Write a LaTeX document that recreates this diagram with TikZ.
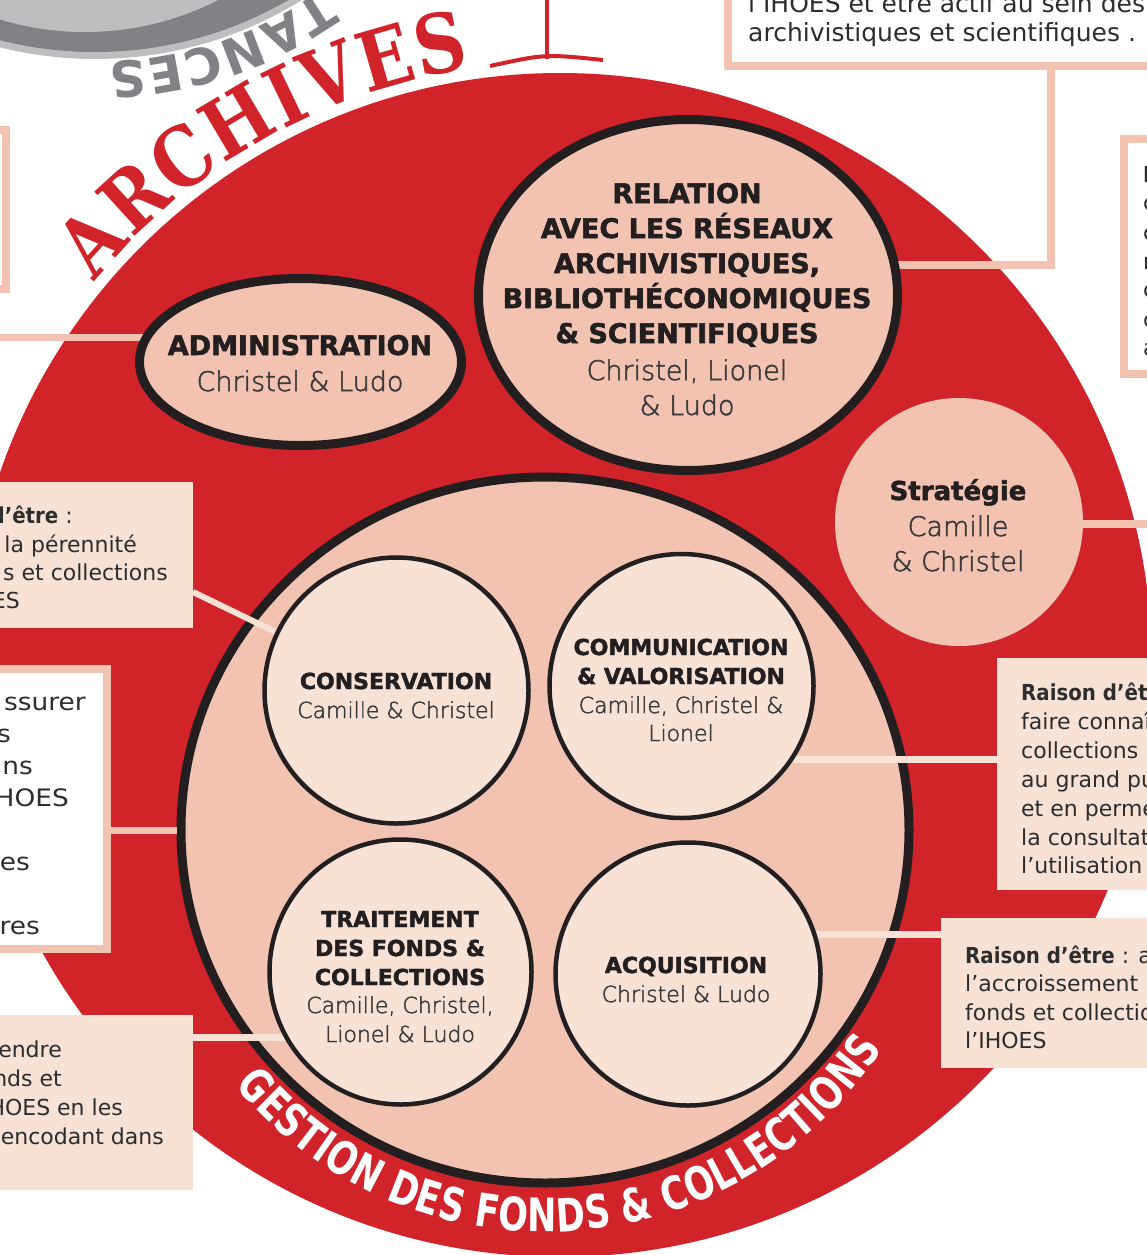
\documentclass[tikz,border=0pt]{standalone}
\usepackage{fontspec}
\setmainfont{DejaVu Sans}
\newfontfamily\slabfont{DejaVu Serif}[FakeStretch=0.86]
\newfontfamily\condfont{DejaVu Sans}[FakeStretch=0.76]
\newfontfamily\bodybold{DejaVu Sans}[FakeStretch=0.9]
\newfontfamily\widefont{DejaVu Sans}[FakeStretch=1.1]
\newfontfamily\heavyfont{DejaVu Sans}[BoldFeatures={FakeBold=2}]
\IfFontExistsTF{DejaVu Sans ExtraLight}
  {\newfontfamily\lightfont{DejaVu Sans ExtraLight}[FakeBold=2]}
  {\IfFontExistsTF{DejaVuSans-ExtraLight.ttf}
    {\newfontfamily\lightfont{DejaVuSans-ExtraLight.ttf}[FakeBold=2]}
    {\newfontfamily\lightfont{DejaVu Sans}}}
\usetikzlibrary{shapes.geometric,decorations.text}
\definecolor{archred}{HTML}{D1232A}
\definecolor{salmon}{HTML}{F2C3B1}
\definecolor{pale}{HTML}{F8E1D5}
\definecolor{inkblack}{HTML}{231F20}
\definecolor{namegray}{HTML}{3A3A3A}
\definecolor{bodytext}{HTML}{2D2D2D}
\definecolor{graydark}{HTML}{808285}
\definecolor{graylight}{HTML}{BCBEC0}
\tikzset{
  salline/.style={draw=salmon, line cap=butt},
  paleline/.style={draw=pale, line cap=butt},
  whitebox/.style={rectangle, draw=salmon, line width=8pt, fill=white, inner sep=0pt, outer sep=0pt, anchor=north west},
  palebox/.style={rectangle, fill=pale, inner sep=0pt, outer sep=0pt, anchor=north west},
  ring/.style={ellipse, draw=inkblack, line width=9pt, fill=salmon, inner sep=0pt, outer sep=0pt},
  disc/.style={ellipse, draw=inkblack, line width=4.5pt, fill=pale, inner sep=0pt, outer sep=0pt},
  ttl/.style={anchor=base, inner sep=0pt, text=inkblack, font=\heavyfont\bfseries\fontsize{27}{27}\selectfont},
  nm/.style={anchor=base, inner sep=0pt, text=namegray, font=\lightfont\fontsize{27}{27}\selectfont},
  ttls/.style={anchor=base, inner sep=0pt, text=inkblack, font=\heavyfont\bfseries\fontsize{22}{22}\selectfont},
  nms/.style={anchor=base, inner sep=0pt, text=namegray, font=\lightfont\fontsize{22}{22}\selectfont},
  bw/.style={anchor=base west, inner sep=0pt, text=bodytext, font=\fontsize{22}{22}\selectfont},
  be/.style={anchor=base east, inner sep=0pt, text=bodytext, font=\fontsize{22}{22}\selectfont},
  bwide/.style={anchor=base east, inner sep=0pt, text=bodytext, font=\widefont\fontsize{24}{24}\selectfont},
}
\newcommand{\rb}[1]{{\bodybold\bfseries #1}}
\begin{document}
\begin{tikzpicture}[x=1pt,y=1pt]
\useasboundingbox (0,0) rectangle (1146,-1255);
\fill[white] (0,0) rectangle (1146,-1255);

% grey disc at top left
\fill[graylight] (95,333) circle[radius=392pt];
\fill[graydark] (95,333) circle[radius=385pt];
\fill[graylight] (85,260) circle[radius=292pt];
\path[decorate, decoration={text along path, text align={fit to path},
  text={|\bfseries\fontsize{50}{50}\selectfont\color{graydark}|TANCES}}]
  (95,333) ++(-55:395pt) arc[start angle=-55, end angle=-88, radius=395pt];

% centres
\coordinate (adminC) at (300.5,-362);
\coordinate (relC) at (688,-295);
\coordinate (stratC) at (959,-522);
\coordinate (consC) at (396.5,-690.5);
\coordinate (commC) at (681.5,-686);
\coordinate (traitC) at (400.5,-972);
\coordinate (acqC) at (688,-974);
\coordinate (bigC) at (545,-830);
\coordinate (relHook) at (1051,-265);
\coordinate (stratEnd) at (1160,-524);
\coordinate (adminEnd) at (-10,-337);

% red disc
\node[circle, fill=archred, minimum size=1184pt, inner sep=0pt] (reddisk) at (560,-665) {};

% ARCHIVES
\path[decorate, decoration={text along path, text align={fit to path},
  text={|\slabfont\bfseries\fontsize{82}{82}\selectfont\color{archred}|ARCHIVES}}]
  (560,-665) ++(140.5:603pt) arc[start angle=140.5, end angle=98.5, radius=603pt];

% red T mark
\draw[archred, line width=4pt] (547,0) -- (547,-59);
\draw[archred, line width=4pt] (490,-66) .. controls (545,-54) .. (603,-60);

% boxes
\node[whitebox, minimum width=572pt, minimum height=86pt] (trbox) at (728,20) {};
\node[whitebox, minimum width=176pt, minimum height=235pt] (boxF) at (1124,-139) {};
\node[whitebox, minimum width=66pt, minimum height=159pt] (boxG) at (-60,-130) {};
\node[whitebox, minimum width=167pt, minimum height=280pt] (boxB) at (-60,-669) {};
\node[palebox, minimum width=253pt, minimum height=146pt] (boxA) at (-60,-482) {};
\node[palebox, minimum width=253pt, minimum height=175pt] (boxC) at (-60,-1015) {};
\node[palebox, minimum width=250pt, minimum height=232pt] (boxD) at (997,-658) {};
\node[palebox, minimum width=300pt, minimum height=150pt] (boxE) at (941,-918) {};

% big inner circle
\node[ring, minimum width=728pt, minimum height=706pt] (big) at (bigC) {};
\path[decorate, decoration={text along path, text align={fit to path},
  text={|\condfont\bfseries\fontsize{46}{46}\selectfont\color{white}|GESTION DES FONDS {\&} COLLECTIONS}}]
  (bigC) ++(219.5:402pt) arc[start angle=219.5, end angle=327, radius=402pt];

% connectors
\draw[salline, line width=7pt] (adminEnd) -- (adminC |- adminEnd);
\draw[salline, line width=8pt] (relC |- relHook) -- (relHook) -- (relHook |- trbox.south);
\draw[salline, line width=8pt] (stratC |- stratEnd) -- (stratEnd);
\draw[salline, line width=7pt, shorten >=4.5pt] (boxB.east |- bigC) -- (big.west);
\draw[paleline, line width=6pt] (boxA.east |- 0,-592) -- (consC);
\draw[paleline, line width=7pt] (boxC.east |- 0,-1037) -- (traitC |- 0,-1037);
\draw[paleline, line width=7pt] (commC |- 0,-759) -- (boxD.west |- 0,-759);
\draw[paleline, line width=7pt] (acqC |- 0,-934) -- (boxE.west |- 0,-934);

% ellipses and circles
\node[ring, minimum width=322pt, minimum height=167pt] (admin) at (adminC) {};
\node[ring, minimum width=419pt, minimum height=351pt] (rel) at (relC) {};
\node[circle, fill=salmon, minimum size=248pt, inner sep=0pt] (strat) at (stratC) {};
\node[disc, minimum width=264pt, minimum height=266pt] (cons) at (consC) {};
\node[disc, minimum width=264pt, minimum height=264pt] (comm) at (commC) {};
\node[disc, minimum width=262pt, minimum height=265pt] (trait) at (traitC) {};
\node[disc, minimum width=265pt, minimum height=263pt] (acq) at (acqC) {};

% texts in ellipses
\node[ttl] (adminT) at (300,-355) {ADMINISTRATION};
\node[nm] (adminN) at (300,-391) {Christel \& Ludo};
\node[ttl] (relT1) at (687,-203) {RELATION};
\node[ttl] (relT2) at (687,-238) {AVEC LES RÉSEAUX};
\node[ttl] (relT3) at (687,-273) {ARCHIVISTIQUES,};
\node[ttl] (relT4) at (687,-308) {BIBLIOTHÉCONOMIQUES};
\node[ttl] (relT5) at (687,-343) {\& SCIENTIFIQUES};
\node[nm] (relN1) at (687,-380) {Christel, Lionel};
\node[nm] (relN2) at (687,-415) {\& Ludo};
\node[ttl, font=\heavyfont\bfseries\fontsize{26}{26}\selectfont] (stratT) at (958,-500) {Stratégie};
\node[nm] (stratN1) at (958,-536) {Camille};
\node[nm] (stratN2) at (958,-571) {\& Christel};
\node[ttls] (consT) at (396,-689) {CONSERVATION};
\node[nms] (consN) at (396,-718) {Camille \& Christel};
\node[ttls] (commT1) at (681,-655) {COMMUNICATION};
\node[ttls] (commT2) at (681,-684) {\& VALORISATION};
\node[nms] (commN1) at (681,-713) {Camille, Christel \&};
\node[nms] (commN2) at (681,-741) {Lionel};
\node[ttls] (traitT1) at (400,-927) {TRAITEMENT};
\node[ttls] (traitT2) at (400,-956) {DES FONDS \&};
\node[ttls] (traitT3) at (400,-985) {COLLECTIONS};
\node[nms] (traitN1) at (400,-1013) {Camille, Christel,};
\node[nms] (traitN2) at (400,-1042) {Lionel \& Ludo};
\node[ttls] (acqT) at (686,-973) {ACQUISITION};
\node[nms] (acqN) at (686,-1002) {Christel \& Ludo};

% box texts
\node[bw, font=\fontsize{25}{25}\selectfont] (tr1) at (748,-13) {l’IHOES et être actif au sein des};
\node[bw, font=\fontsize{25}{25}\selectfont] (tr2) at (748,-42) {archivistiques et scientifiques .};

\node[bw] (f1) at (1143,-182) {\rb{R}};
\node[bw] (f2) at (1143,-210) {c};
\node[bw] (f3) at (1143,-240) {c};
\node[bw] (f4) at (1143,-269) {r};
\node[bw] (f5) at (1143,-297) {c};
\node[bw] (f6) at (1143,-327) {c};
\node[bw] (f7) at (1143,-355) {a};

\node[be] (a1) at (73,-523) {\rb{d’être} :};
\node[be] (a2) at (137,-552) {la pérennité};
\node[be] (a3) at (168,-580) {s et collections};
\node[be] (a4) at (20,-608) {ES};

\node[bwide] (b1) at (86,-710) {ssurer};
\node[bwide] (b2) at (11,-742) {s};
\node[bwide] (b3) at (33,-774) {ns};
\node[bwide] (b4) at (69,-806) {HOES};
\node[bwide] (b5) at (30,-870) {es};
\node[bwide] (b6) at (40,-934) {res};

\node[be] (c1) at (62,-1057) {endre};
\node[be] (c2) at (62,-1086) {nds et};
\node[be] (c3) at (123,-1115) {HOES en les};
\node[be] (c4) at (164,-1144) {encodant dans};

\node[bw] (d1) at (1021,-700) {\rb{Raison d’être}};
\node[bw] (d2) at (1021,-729) {faire connaître};
\node[bw] (d3) at (1021,-758) {collections};
\node[bw] (d4) at (1021,-787) {au grand public};
\node[bw] (d5) at (1021,-816) {et en permettant};
\node[bw] (d6) at (1021,-845) {la consultation};
\node[bw] (d7) at (1021,-873) {l’utilisation};

\node[bw] (e1) at (965,-963) {\rb{Raison d’être} : a};
\node[bw] (e2) at (965,-991) {l’accroissement};
\node[bw] (e3) at (965,-1020) {fonds et collections};
\node[bw] (e4) at (965,-1048) {l’IHOES};
\end{tikzpicture}
\end{document}
